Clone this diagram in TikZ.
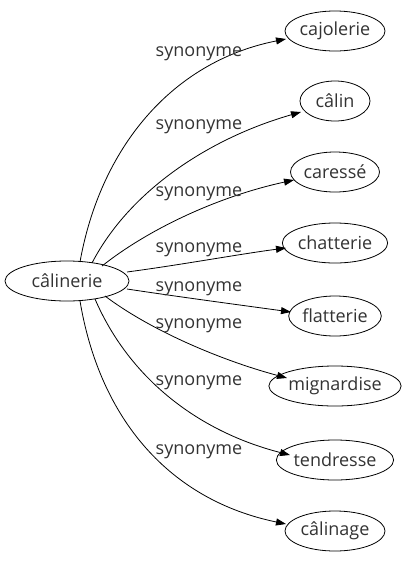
\documentclass[tikz,border=0pt]{standalone}
\usepackage{fontspec}
\setmainfont{Open Sans}
\usetikzlibrary{arrows.meta,shapes.geometric}
\definecolor{txt}{HTML}{333333}
\begin{document}
\begin{tikzpicture}[x=1pt,y=-1pt,
  word/.style={draw=black, ellipse, line width=0.8pt, inner sep=0pt, text=txt, font=\fontsize{18}{21}\selectfont},
  lbl/.style={text=txt, font=\fontsize{18}{21}\selectfont, inner sep=0pt},
  edge/.style={line width=0.8pt, -{Triangle[length=10pt,width=7pt]}}]
\useasboundingbox (0,0) rectangle (407,563);
\node[word, minimum width=124pt, minimum height=40pt] (c) at (67,281) {câlinerie};
\node[word, minimum width=100pt, minimum height=40pt] (n1) at (335,31) {cajolerie};
\node[word, minimum width=70pt, minimum height=40pt] (n2) at (335,101) {câlin};
\node[word, minimum width=88pt, minimum height=40pt] (n3) at (335,172) {caressé};
\node[word, minimum width=100pt, minimum height=40pt] (n4) at (335,243) {chatterie};
\node[word, minimum width=90pt, minimum height=40pt] (n5) at (335,316) {flatterie};
\node[word, minimum width=116pt, minimum height=40pt] (n6) at (335,386) {mignardise};
\node[word, minimum width=108pt, minimum height=40pt] (n7) at (335,460) {tendresse};
\node[word, minimum width=100pt, minimum height=40pt] (n8) at (335,531) {câlinage};
\coordinate (s1) at (80,262);
\coordinate (s2) at (92,263);
\coordinate (s3) at (102,266);
\coordinate (s4) at (127,272);
\coordinate (s5) at (127,289);
\coordinate (s6) at (105,296);
\coordinate (s7) at (95,299);
\coordinate (s8) at (80,301);
\coordinate (e1) at (286,39);
\coordinate (e2) at (301,112);
\coordinate (e3) at (294,180);
\coordinate (e4) at (286,248);
\coordinate (e5) at (291,312);
\coordinate (e6) at (287,378);
\coordinate (e7) at (290,455);
\coordinate (e8) at (286,524);
\draw[edge] (s1) .. controls (100,150) and (170,62) .. (e1);
\draw[edge] (s2) .. controls (130,190) and (210,138) .. (e2);
\draw[edge] (s3) .. controls (150,228) and (220,196) .. (e3);
\draw[edge] (s4) .. controls (180,265) and (240,254) .. (e4);
\draw[edge] (s5) .. controls (180,297) and (240,305) .. (e5);
\draw[edge] (s6) .. controls (150,330) and (220,360) .. (e6);
\draw[edge] (s7) .. controls (130,380) and (200,432) .. (e7);
\draw[edge] (s8) .. controls (100,420) and (170,500) .. (e8);
\node[lbl] (l1) at (199,54) {synonyme};
\node[lbl] (l2) at (199,127) {synonyme};
\node[lbl] (l3) at (199,194) {synonyme};
\node[lbl] (l4) at (199,250) {synonyme};
\node[lbl] (l5) at (199,289) {synonyme};
\node[lbl] (l6) at (199,326) {synonyme};
\node[lbl] (l7) at (199,383) {synonyme};
\node[lbl] (l8) at (199,452) {synonyme};
\end{tikzpicture}
\end{document}
